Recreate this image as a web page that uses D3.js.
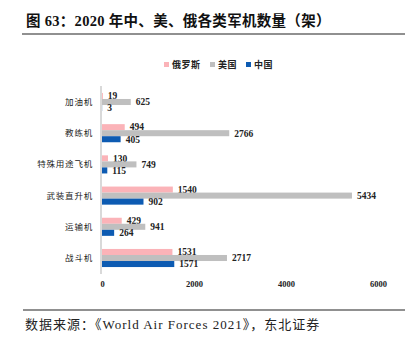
<!DOCTYPE html>
<html><head><meta charset="utf-8">
<script src="https://cdn.jsdelivr.net/npm/d3@7"></script>
<style>body{margin:0;background:#fff}svg{display:block}</style>
</head><body>
<script>
const categories = ["加油机","教练机","特殊用途飞机","武装直升机","运输机","战斗机"];
const seriesNames = ["俄罗斯","美国","中国"];
const russia = [19, 494, 130, 1540, 429, 1531];
const usa = [625, 2766, 749, 5434, 941, 2717];
const china = [3, 405, 115, 902, 264, 1571];
const xTicks = [0, 2000, 4000, 6000];
const colors = ["#FBB3B8", "#BFBFBF", "#0D5BB2"];
const seriesValues = [russia, usa, china];

const W = 413, H = 346;
const svg = d3.select("body").append("svg").attr("width", W).attr("height", H);
const serif = "'Liberation Serif','DejaVu Serif',serif";
const cjk = "'Noto Sans CJK SC',sans-serif";

// title
svg.append("text").attr("x", 26).attr("y", 26)
  .style("font-family", "'Liberation Serif','Noto Sans CJK SC',serif").style("font-weight", "bold")
  .style("font-size", "14.5px").style("letter-spacing", "0.3px").attr("fill", "#111")
  .text("图 63：2020 年中、美、俄各类军机数量（架）");
svg.append("line").attr("x1", 22).attr("x2", 405).attr("y1", 34).attr("y2", 34)
  .attr("stroke", "#222").attr("stroke-width", 1.2);

const x = d3.scaleLinear().domain([0, 6000]).range([102, 378]);
const y = d3.scaleBand().domain(categories).range([86.4, 273.6]).paddingInner(0.42).paddingOuter(0.21);
const ys = d3.scaleBand().domain(seriesNames).range([0, y.bandwidth()]);

// axis line
svg.append("line").attr("x1", 101).attr("x2", 101).attr("y1", 86).attr("y2", 274)
  .attr("stroke", "#D9D9D9").attr("stroke-width", 2);

// bars
seriesNames.forEach((s, si) => {
  const g = svg.append("g");
  g.selectAll("rect").data(categories).enter().append("rect")
    .attr("x", x(0))
    .attr("y", c => y(c) + ys(s))
    .attr("width", (c, i) => x(seriesValues[si][i]) - x(0))
    .attr("height", ys.bandwidth())
    .attr("fill", colors[si]);
  g.selectAll("text").data(categories).enter().append("text")
    .attr("x", (c, i) => x(seriesValues[si][i]) + 5)
    .attr("y", c => y(c) + ys(s) + ys.bandwidth() / 2)
    .attr("dy", "0.35em")
    .style("font-family", serif).style("font-weight", "bold").style("font-size", "9.5px")
    .attr("fill", "#222")
    .text((c, i) => seriesValues[si][i]);
});

// category labels
svg.append("g").selectAll("text").data(categories).enter().append("text")
  .attr("x", 93).attr("y", c => y(c) + y.bandwidth() / 2).attr("dy", "0.35em")
  .attr("text-anchor", "end")
  .style("font-family", cjk).style("font-size", "8.5px").style("letter-spacing", "0.8px").attr("fill", "#222")
  .text(c => c);

// x axis
const xAxis = d3.axisBottom(x).tickValues(xTicks).tickSize(0).tickPadding(0).tickFormat(d3.format("d"));
const ax = svg.append("g").attr("transform", "translate(0,281)").call(xAxis);
ax.select(".domain").remove();
ax.selectAll("text").style("font-family", serif).style("font-weight", "bold")
  .style("font-size", "8.5px").attr("fill", "#222");

// legend
const legX = [164, 210, 246];
seriesNames.forEach((s, i) => {
  svg.append("rect").attr("x", legX[i]).attr("y", 62).attr("width", 5).attr("height", 5).attr("fill", colors[i]);
  svg.append("text").attr("x", legX[i] + 8).attr("y", 65).attr("dy", "0.35em")
    .style("font-family", cjk).style("font-size", "9px").style("letter-spacing", "0.5px").style("font-weight", "bold").attr("fill", "#222")
    .text(s);
});

// footer
svg.append("line").attr("x1", 23).attr("x2", 405).attr("y1", 310).attr("y2", 310)
  .attr("stroke", "#222").attr("stroke-width", 1.2);
svg.append("text").attr("x", 25).attr("y", 329)
  .style("font-family", "'Liberation Serif','Noto Sans CJK SC',serif").style("font-size", "13px").style("letter-spacing", "1px").attr("fill", "#222")
  .text("数据来源：《World Air Forces 2021》，东北证券");
</script>
</body></html>
